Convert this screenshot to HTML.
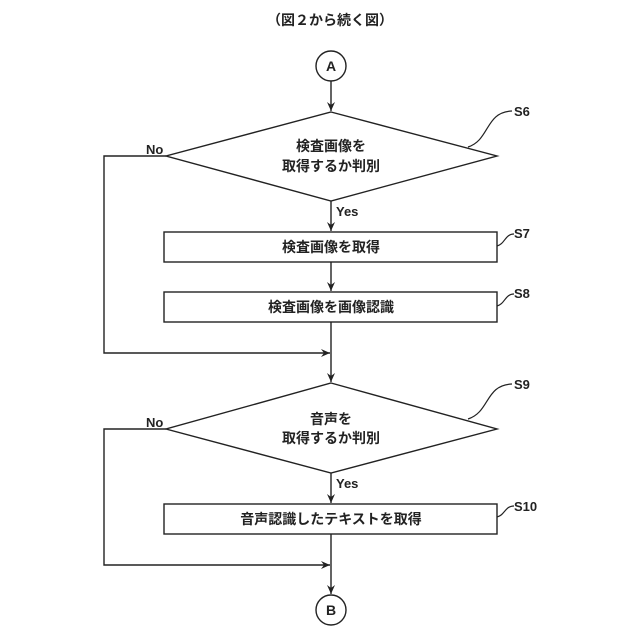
<!DOCTYPE html>
<html><head><meta charset="utf-8"><style>
html,body{margin:0;padding:0;background:#fff;}
svg{display:block;}
text{font-family:"Liberation Sans","Noto Sans CJK JP",sans-serif;fill:#222;font-weight:bold;}
</style></head><body>
<svg width="640" height="640" viewBox="0 0 640 640" xmlns="http://www.w3.org/2000/svg">
<defs><marker id="ar" markerWidth="10" markerHeight="10" refX="9" refY="5" orient="auto" markerUnits="userSpaceOnUse"><path d="M0,1 L9,5 L0,9 L3,5 Z" fill="#222"/></marker></defs>
<g stroke="#222" stroke-width="1.4" fill="none">
<text x="330" y="25" font-size="14" text-anchor="middle" stroke="none">（図２から続く図）</text>
<circle cx="331" cy="66" r="15" fill="#fff"/>
<line x1="331" y1="81" x2="331" y2="111" marker-end="url(#ar)"/>
<polygon points="331,112 497,156 331,201 166,156" fill="#fff"/>
<line x1="331" y1="201" x2="331" y2="231" marker-end="url(#ar)"/>
<rect x="164" y="232" width="333" height="30" fill="#fff"/>
<line x1="331" y1="262" x2="331" y2="291" marker-end="url(#ar)"/>
<rect x="164" y="292" width="333" height="30" fill="#fff"/>
<line x1="331" y1="322" x2="331" y2="382" marker-end="url(#ar)"/>
<polyline points="166,156 104,156 104,353 330,353" marker-end="url(#ar)"/>
<polygon points="331,383 497,429 331,473 166,429" fill="#fff"/>
<line x1="331" y1="473" x2="331" y2="503" marker-end="url(#ar)"/>
<rect x="164" y="504" width="333" height="30" fill="#fff"/>
<line x1="331" y1="534" x2="331" y2="594" marker-end="url(#ar)"/>
<polyline points="166,429 104,429 104,565 330,565" marker-end="url(#ar)"/>
<circle cx="331" cy="610" r="15" fill="#fff"/>
<path d="M468,147 C490,140 485,112 512,111" stroke-width="1.2"/>
<path d="M497,246 C505,244 505,234 514,234" stroke-width="1.2"/>
<path d="M497,306 C505,304 505,294 514,294" stroke-width="1.2"/>
<path d="M468,419 C490,412 485,385 512,384" stroke-width="1.2"/>
<path d="M497,517 C505,515 505,506 514,506" stroke-width="1.2"/>
</g>
<text x="331" y="71" font-size="14" text-anchor="middle">A</text>
<text x="331" y="615" font-size="14" text-anchor="middle">B</text>
<text x="331" y="151" font-size="14" text-anchor="middle">検査画像を</text>
<text x="331" y="171" font-size="14" text-anchor="middle">取得するか判別</text>
<text x="331" y="252" font-size="14" text-anchor="middle">検査画像を取得</text>
<text x="331" y="312" font-size="14" text-anchor="middle">検査画像を画像認識</text>
<text x="331" y="424" font-size="14" text-anchor="middle">音声を</text>
<text x="331" y="443" font-size="14" text-anchor="middle">取得するか判別</text>
<text x="331" y="524" font-size="14" text-anchor="middle">音声認識したテキストを取得</text>
<text x="146" y="154" font-size="13">No</text>
<text x="146" y="427" font-size="13">No</text>
<text x="336" y="216" font-size="13">Yes</text>
<text x="336" y="488" font-size="13">Yes</text>
<text x="514" y="116" font-size="13">S6</text>
<text x="514" y="238" font-size="13">S7</text>
<text x="514" y="298" font-size="13">S8</text>
<text x="514" y="389" font-size="13">S9</text>
<text x="514" y="511" font-size="13">S10</text>
</svg>
</body></html>
